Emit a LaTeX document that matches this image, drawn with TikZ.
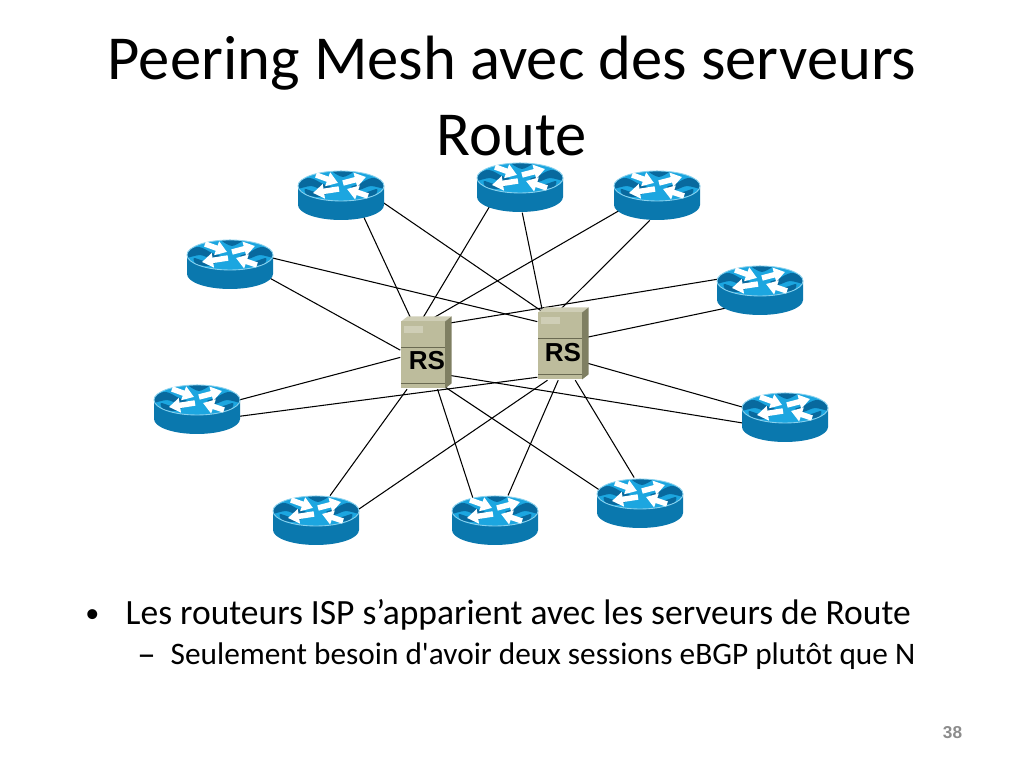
\documentclass[tikz,border=0pt]{standalone}
\usepackage{fontspec}
\setmainfont{Carlito}
\newfontfamily\labelfont{Liberation Sans}
\definecolor{routerside}{HTML}{0A78AE}
\definecolor{routertop}{HTML}{1CA6E0}
\definecolor{routerdark}{HTML}{08699E}
\definecolor{routerrim}{HTML}{8AD2EE}
\definecolor{srvfront}{HTML}{BDBC9C}
\definecolor{srvtop}{HTML}{CFCEB6}
\definecolor{srvside}{HTML}{7F7F62}
\definecolor{srvline}{HTML}{6A6A52}
\definecolor{pagenum}{HTML}{8C8C8C}
\usetikzlibrary{arrows.meta,backgrounds,shapes.geometric}
\tikzset{
  routerbox/.style = {ellipse,minimum width=0.86cm,minimum height=0.5cm,inner sep=0pt},
  serverbox/.style = {rectangle,minimum width=0.44cm,minimum height=0.67cm,inner sep=0pt},
  link/.style      = {line width=0.3pt,black},
  rarrow/.style    = {-{Triangle[length=0.11cm,width=0.14cm]},white,line width=0.055cm},
  title/.style     = {font=\fontsize{17.8pt}{21.4pt}\selectfont,align=center,inner sep=0pt},
  bodytxt/.style   = {font=\fontsize{10.1pt}{12pt}\selectfont,inner sep=0pt,anchor=base west},
  subtxt/.style    = {font=\fontsize{8.9pt}{11pt}\selectfont,inner sep=0pt,anchor=base west},
  rslabel/.style   = {font=\labelfont\bfseries\fontsize{7.4pt}{8pt}\selectfont,inner sep=0pt},
  router/.pic = {
    \fill[routerside] (-43,-9) -- (-43,10)
      arc[start angle=180,end angle=0,x radius=43,y radius=15] -- (43,-9) -- cycle;
    \fill[routertop] (0,-9) ellipse [x radius=43,y radius=15];
    \begin{scope}
      \clip (0,-9) ellipse [x radius=43,y radius=15];
      % waves
      \fill[routerdark] plot[smooth cycle] coordinates
        {(-45,-13) (-31,-17) (-18,-11) (-10,-8) (-18,-5) (-30,-9) (-45,-6)};
      \fill[routerdark] plot[smooth cycle] coordinates
        {(45,-13) (31,-17) (18,-11) (10,-8) (18,-5) (30,-9) (45,-6)};
      \fill[routerdark] plot[smooth cycle] coordinates
        {(-36,-6) (-26,-3) (-14,-2) (-22,2) (-34,0)};
      \fill[routerdark] plot[smooth cycle] coordinates
        {(36,-6) (26,-3) (14,-2) (22,2) (34,0)};
      \fill[routerdark] plot[smooth cycle] coordinates
        {(-8,-23) (2,-18) (12,-23) (8,-26) (-6,-26)};
    \end{scope}
    \draw[routerrim,line width=0.25pt] (0,-9) ellipse [x radius=43,y radius=15];
    \draw[rarrow] (-25,-20) -- (-3,-12);
    \draw[rarrow] (2,-12) -- (25,-18);
    \draw[rarrow] (-2,-6) -- (-28,-2);
    \draw[rarrow] (27,1) -- (6,-6);
  },
  server/.pic = {
    \fill[srvtop] (-22,-33.5) -- (-15.5,-38.5) -- (28.5,-38.5) -- (22,-33.5) -- cycle;
    \fill[srvside] (22,-33.5) -- (28.5,-38.5) -- (28.5,28.5) -- (22,33.5) -- cycle;
    \fill[srvfront] (-22,-33.5) rectangle (22,33.5);
    \fill[srvtop] (-19,-29) rectangle (0,-21.5);
    \draw[srvline,line width=0.3pt] (-22,-7.5) -- (22,-7.5);
    \draw[srvline,line width=0.3pt] (-22,28.5) -- (22,28.5);
  },
}
\begin{document}
\begin{tikzpicture}[x=0.01cm,y=-0.01cm]
  \useasboundingbox (0,0) rectangle (1024,768);
  % title
  \node[title] (heading) at (512,96) {Peering Mesh avec des serveurs\\Route};
  % routers
  \foreach \n/\x/\y in {1/341/195,2/520/187,3/657/195,4/760/290,5/785/417,
                        6/640/503,7/495/520,8/316/520,9/197/409,0/230/264}{
    \node[routerbox] (r\n) at (\x,\y) {};
    \pic at (r\n) {router};
  }
  % servers
  \node[serverbox] (rs1) at (423,355) {};
  \pic at (rs1) {server};
  \node[rslabel] (rslbl1) at (427,361) {RS};
  \node[serverbox] (rs2) at (560,346) {};
  \pic at (rs2) {server};
  \node[rslabel] (rslbl2) at (563,353) {RS};
  % links
  \begin{scope}[on background layer]
    \foreach \n/\a/\b/\c/\d in {1/-44/108/-10/117,2/212/93/-85/117,3/202/81/254/93,
                                4/164/54/209/19,5/188/-41/167/-35,6/163/-55/103/-66,
                                7/135/-67/62/267,8/60/245/13/250,9/12/186/-10/234,
                                0/-19/168/8/133}{
      \draw[link] (r\n.\a) -- (rs1.\b);
      \draw[link] (r\n.\c) -- (rs2.\d);
    }
  \end{scope}
  % text
  \node[font=\fontsize{8pt}{9pt}\selectfont,inner sep=0pt,anchor=base] (bullet) at (92.5,623) {•};
  \node[bodytxt] (line1) at (125,625) {Les routeurs ISP s’apparient avec les serveurs de Route};
  \node[font=\fontsize{10.5pt}{12pt}\selectfont,inner sep=0pt,anchor=base] (dash) at (146.5,667) {–};
  \node[subtxt] (line2) at (170,664.5) {Seulement besoin d\textquotesingle avoir deux sessions eBGP plutôt que N};
  \node[font=\labelfont\bfseries\fontsize{4.9pt}{5pt}\selectfont,text=pagenum,inner sep=0pt] (pageno) at (952.5,733) {38};
\end{tikzpicture}
\end{document}
